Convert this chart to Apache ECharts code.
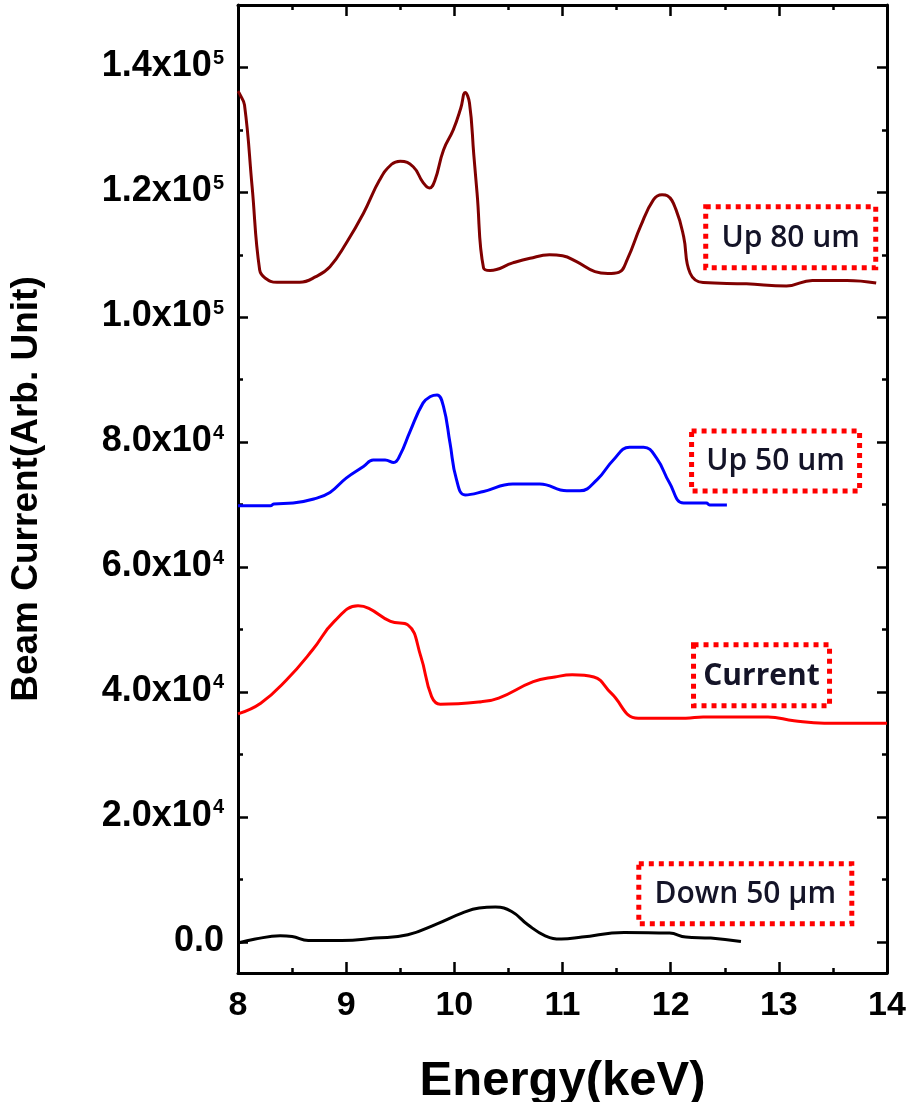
<!DOCTYPE html>
<html><head><meta charset="utf-8">
<script src="https://cdn.jsdelivr.net/npm/echarts@6/dist/echarts.min.js"></script>
<style>html,body{margin:0;padding:0;background:#fff}#c{width:910px;height:1102px}</style>
</head><body><div id="c"></div>
<script>
// ---- data ----
const up80Energy = [8.0, 8.02, 8.06, 8.13, 8.2, 8.25, 8.36, 8.57, 8.72, 8.85, 9.0, 9.16, 9.31, 9.42, 9.5, 9.62, 9.71, 9.77, 9.82, 9.9, 9.99, 10.06, 10.1, 10.14, 10.18, 10.21, 10.27, 10.33, 10.54, 10.7, 10.88, 11.0, 11.13, 11.3, 11.42, 11.52, 11.6, 11.72, 11.84, 11.92, 11.97, 12.05, 12.12, 12.18, 12.3, 12.7, 13.07, 13.31, 13.63, 13.9];
const up80Current = [136200, 135600, 134000, 121000, 107600, 106300, 105600, 105600, 106500, 108100, 111850, 116650, 122000, 124500, 125000, 124100, 121600, 120700, 121900, 126800, 130000, 133500, 136000, 134300, 126000, 119900, 107900, 107500, 108700, 109450, 110000, 109850, 108900, 107300, 107000, 107200, 109300, 114500, 118800, 119600, 119450, 117200, 112900, 107050, 105550, 105350, 105000, 105900, 105900, 105500];

const up50Energy = [8.0, 8.3, 8.33, 8.51, 8.7, 8.85, 9.0, 9.16, 9.25, 9.36, 9.44, 9.5, 9.59, 9.71, 9.78, 9.84, 9.9, 9.96, 10.02, 10.1, 10.27, 10.54, 10.79, 11.04, 11.16, 11.32, 11.47, 11.62, 11.75, 11.87, 11.99, 12.12, 12.33, 12.36, 12.52];
const up50Current = [69800, 69800, 70100, 70250, 70900, 71950, 74250, 76100, 77150, 77150, 76750, 78000, 81700, 86250, 87300, 87550, 85700, 79850, 74000, 71550, 72100, 73300, 73300, 72200, 72200, 74000, 77150, 79200, 79200, 77450, 73450, 70250, 70250, 69950, 69950];

const nowEnergy = [8.0, 8.21, 8.45, 8.69, 8.89, 9.11, 9.21, 9.41, 9.57, 9.69, 9.79, 9.87, 10.25, 10.41, 10.73, 10.93, 11.09, 11.29, 11.45, 11.7, 12.14, 12.3, 12.9, 13.14, 13.42, 14.0];
const nowCurrent = [36500, 38200, 41950, 46750, 51300, 53800, 53400, 51300, 50750, 45700, 39250, 38050, 38450, 39000, 41650, 42400, 42750, 42400, 39800, 35800, 35800, 36000, 36000, 35400, 35000, 35000];

const down50Energy = [8.0, 8.16, 8.39, 8.5, 8.65, 8.96, 9.27, 9.57, 9.84, 10.07, 10.23, 10.38, 10.53, 10.68, 10.84, 10.99, 11.18, 11.57, 11.99, 12.14, 12.37, 12.65];
const down50Current = [-200, 430, 960, 850, 200, 200, 590, 1120, 2880, 4590, 5400, 5550, 4850, 2720, 960, 430, 750, 1500, 1390, 750, 590, 50];

const yMajorTicks = [0, 20000, 40000, 60000, 80000, 100000, 120000, 140000];
const yMinorTicks = [10000, 30000, 50000, 70000, 90000, 110000, 130000];
const xTitle = 'Energy(keV)';
const yTitle = 'Beam Current(Arb. Unit)';
const noteTexts = ['Up 80 um', 'Up 50 um', 'Current', 'Down 50 µm'];
const noteAnchors = [[13.11, 112800], [12.97, 77000], [12.84, 42670], [12.69, 7700]];
const noteSizes = [[170, 61], [168, 60], [136, 61], [213, 60]];
const noteWeights = ['600', '600', 'bold', '600'];

// ---- chart ----
const zip = (xs, ys) => xs.map((x, i) => [x, ys[i]]);
const YMIN = -5000, YMAX = 150000;
const tickFont = 'Liberation Sans, Arial, sans-serif';
function yFmt(v) {
  if (v === 0) return '{m|0.0}';
  const e = Math.floor(Math.log10(v) + 1e-9);
  const m = (v / Math.pow(10, e)).toFixed(1);
  return '{m|' + m + 'x10}{s|' + e + '}';
}
const rich = {
  m: {fontSize: 36, fontWeight: 'bold', fontFamily: tickFont, color: '#000', lineHeight: 38, verticalAlign: 'top'},
  s: {fontSize: 20, fontWeight: 'bold', fontFamily: tickFont, color: '#000', lineHeight: 38, verticalAlign: 'top', padding: [0, 0, 0, 1]}
};
const lineStyleAxis = {color: '#000', width: 3};
const tickLine = {color: '#000', width: 2.5};
function yAxisDef(pos, ticks, len, withLabel, withLine) {
  return {
    type: 'value', position: pos, min: YMIN, max: YMAX,
    axisLine: {show: withLine, lineStyle: lineStyleAxis},
    axisTick: {show: true, inside: true, length: len, lineStyle: tickLine, customValues: ticks},
    axisLabel: withLabel ? {show: true, customValues: ticks, formatter: yFmt, rich: rich, margin: 14} : {show: false},
    splitLine: {show: false}
  };
}
function xAxisDef(pos, withLabel) {
  return {
    type: 'value', position: pos, min: 8, max: 14, interval: 1,
    axisLine: {show: true, onZero: false, lineStyle: lineStyleAxis},
    axisTick: {show: true, inside: true, length: 11, lineStyle: tickLine},
    minorTick: {show: true, splitNumber: 2, length: 5, lineStyle: tickLine},
    axisLabel: withLabel ? {show: true, fontSize: 34, fontWeight: 'bold', fontFamily: tickFont, color: '#000', margin: 16} : {show: false},
    splitLine: {show: false}
  };
}
const xs = [xAxisDef('bottom', true), xAxisDef('top', false)];
xs[0].name = xTitle; xs[0].nameLocation = 'middle'; xs[0].nameGap = 84;
xs[0].nameTextStyle = {fontSize: 49, fontWeight: 'bold', fontFamily: tickFont, color: '#000'};
const ys = [
  yAxisDef('left', yMajorTicks, 10, true, true),
  yAxisDef('left', yMinorTicks, 5, false, false),
  yAxisDef('right', yMajorTicks, 10, false, true),
  yAxisDef('right', yMinorTicks, 5, false, false)
];
ys[0].name = yTitle; ys[0].nameLocation = 'middle'; ys[0].nameGap = 193;
ys[0].nameTextStyle = {fontSize: 37, fontWeight: 'bold', fontFamily: tickFont, color: '#000'};

function ser(name, data, color, w) {
  return {name, type: 'line', data, xAxisIndex: 0, yAxisIndex: 0, showSymbol: false, symbol: 'none',
    smooth: 0.45, lineStyle: {color, width: w}, itemStyle: {color}, z: 3};
}
const option = {
  animation: false,
  backgroundColor: '#fff',
  grid: {left: 238, right: 23, top: 5, bottom: 129, containLabel: false, outerBoundsMode: 'none'},
  xAxis: xs,
  yAxis: ys,
  series: [
    ser('Up 80 um', zip(up80Energy, up80Current), '#800000', 3),
    ser('Up 50 um', zip(up50Energy, up50Current), '#0000ff', 3),
    ser('Current', zip(nowEnergy, nowCurrent), '#ff0000', 3),
    ser('Down 50 µm', zip(down50Energy, down50Current), '#000000', 3)
  ]
};
const chart = echarts.init(document.getElementById('c'));
chart.setOption(option);
const notes = noteTexts.map((t, i) => {
  const p = chart.convertToPixel({xAxisIndex: 0, yAxisIndex: 0}, noteAnchors[i]);
  const w = noteSizes[i][0], h = noteSizes[i][1];
  return {
    type: 'group', x: p[0], y: p[1], z: 10,
    children: [
      {type: 'rect', shape: {x: -w / 2, y: -h / 2, width: w, height: h},
       style: {fill: 'rgba(0,0,0,0)', stroke: '#ff0000', lineWidth: 5, lineDash: [5, 5]}},
      {type: 'text', style: {text: t, x: 0, y: 1, align: 'center', verticalAlign: 'middle',
        fontSize: 30, fontWeight: noteWeights[i], fontFamily: 'Open Sans, Lato, sans-serif', fill: '#141428'}}
    ]
  };
});
chart.setOption({graphic: notes});
</script></body></html>
